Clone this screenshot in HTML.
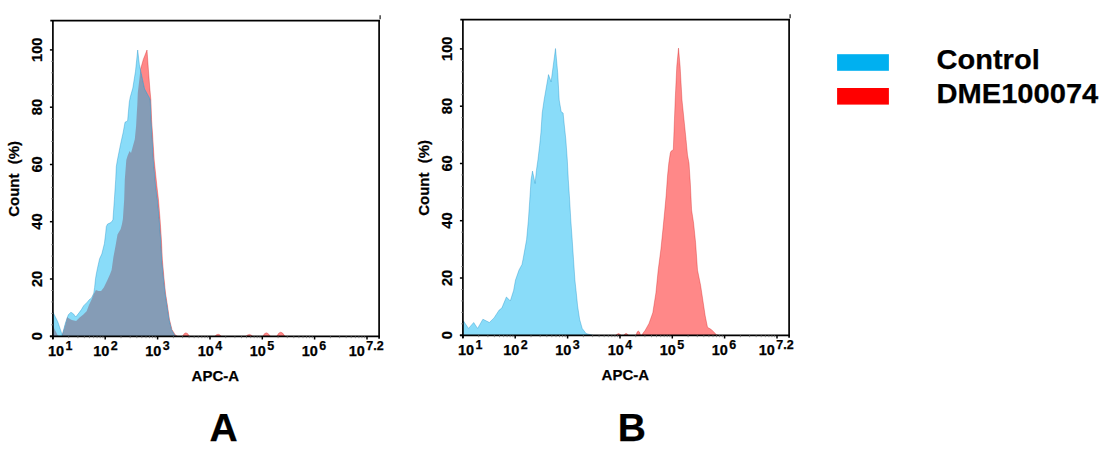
<!DOCTYPE html>
<html><head><meta charset="utf-8"><title>Flow cytometry histograms</title>
<style>
html,body{margin:0;padding:0;background:#fff;}
body{width:1114px;height:459px;overflow:hidden;}
svg{display:block;}
</style></head>
<body>
<svg width="1114" height="459" viewBox="0 0 1114 459">
<rect width="1114" height="459" fill="#fff"/>
<g id="panelA">
<defs><clipPath id="redclipA"><polygon points="53.0,336.3 53.0,326.0 55.5,331.0 57.5,335.0 59.0,336.3 61.8,336.3 64.5,328.0 67.4,317.4 71.8,320.0 76.1,320.9 79.6,317.4 83.1,314.8 86.6,311.3 89.0,304.9 91.6,299.6 93.7,294.4 95.9,290.0 98.5,290.9 101.1,290.9 103.8,287.4 107.2,280.5 109.9,274.4 111.6,270.0 113.5,256.6 115.5,246.0 117.5,234.4 120.7,229.0 122.0,224.0 122.9,219.0 124.2,199.2 124.8,179.6 126.3,160.0 127.5,156.0 129.6,151.0 131.0,153.0 134.8,139.2 136.1,126.1 136.8,113.0 137.3,105.0 137.8,92.7 139.4,79.0 140.4,69.8 143.3,59.4 147.0,50.0 148.5,71.1 149.8,88.1 150.9,100.0 151.6,119.6 152.9,139.2 154.2,160.0 156.9,186.0 158.5,200.0 160.1,219.6 161.4,239.2 162.4,260.0 164.2,280.0 165.5,293.0 167.5,306.0 169.4,319.2 172.0,329.7 175.3,334.9 177.5,336.3 177.5,336.3"/></clipPath></defs>
<polygon points="53.0,336.3 53.0,326.0 55.5,331.0 57.5,335.0 59.0,336.3 61.8,336.3 64.5,328.0 67.4,317.4 71.8,320.0 76.1,320.9 79.6,317.4 83.1,314.8 86.6,311.3 89.0,304.9 91.6,299.6 93.7,294.4 95.9,290.0 98.5,290.9 101.1,290.9 103.8,287.4 107.2,280.5 109.9,274.4 111.6,270.0 113.5,256.6 115.5,246.0 117.5,234.4 120.7,229.0 122.0,224.0 122.9,219.0 124.2,199.2 124.8,179.6 126.3,160.0 127.5,156.0 129.6,151.0 131.0,153.0 134.8,139.2 136.1,126.1 136.8,113.0 137.3,105.0 137.8,92.7 139.4,79.0 140.4,69.8 143.3,59.4 147.0,50.0 148.5,71.1 149.8,88.1 150.9,100.0 151.6,119.6 152.9,139.2 154.2,160.0 156.9,186.0 158.5,200.0 160.1,219.6 161.4,239.2 162.4,260.0 164.2,280.0 165.5,293.0 167.5,306.0 169.4,319.2 172.0,329.7 175.3,334.9 177.5,336.3 177.5,336.3" fill="#ff8888" stroke="rgba(200,0,0,0.5)" stroke-width="0.6"/>
<path d="M182.5,336.3 Q185.8,329.3 189.5,336.3 Z" fill="#ff8888" stroke="rgba(200,0,0,0.5)" stroke-width="0.6"/>
<path d="M214.9,336.3 Q218.1,332.1 221.3,336.3 Z" fill="#ff8888" stroke="rgba(200,0,0,0.5)" stroke-width="0.6"/>
<path d="M246.0,336.3 Q249.4,332.5 252.6,336.3 Z" fill="#ff8888" stroke="rgba(200,0,0,0.5)" stroke-width="0.6"/>
<path d="M262.8,336.3 Q266.0,329.3 270.4,336.3 Z" fill="#ff8888" stroke="rgba(200,0,0,0.5)" stroke-width="0.6"/>
<path d="M276.8,336.3 Q280.6,328.1 284.9,336.3 Z" fill="#ff8888" stroke="rgba(200,0,0,0.5)" stroke-width="0.6"/>
<polygon points="53.0,336.3 53.0,312.2 57.8,321.8 61.3,332.2 62.2,335.5 65.3,323.5 68.3,314.8 70.9,312.2 73.5,313.9 75.7,317.0 78.8,313.1 81.4,309.6 83.7,305.7 87.2,302.2 89.4,299.6 91.6,297.9 93.7,293.5 94.6,287.4 95.5,278.7 96.3,274.0 97.4,268.5 99.6,258.7 101.8,254.0 104.4,243.5 105.7,233.0 106.3,226.5 107.6,224.0 110.9,222.6 112.9,220.0 114.4,199.2 115.7,179.6 116.3,166.5 117.4,160.0 120.5,144.4 123.1,132.7 125.0,122.2 127.6,120.9 128.3,113.0 129.3,102.0 130.2,97.3 132.8,88.1 135.5,71.1 137.7,50.0 139.4,64.6 140.7,71.0 144.6,89.0 149.2,97.3 150.2,100.0 151.0,119.6 152.2,139.2 153.3,160.0 155.6,186.0 157.4,200.0 159.2,219.6 160.6,239.2 161.7,260.0 163.6,280.0 165.0,293.0 167.0,306.0 169.0,319.2 171.5,329.7 174.5,334.9 176.0,336.3 176.0,336.3" fill="#89dcf9"/>
<polygon points="53.0,336.3 53.0,312.2 57.8,321.8 61.3,332.2 62.2,335.5 65.3,323.5 68.3,314.8 70.9,312.2 73.5,313.9 75.7,317.0 78.8,313.1 81.4,309.6 83.7,305.7 87.2,302.2 89.4,299.6 91.6,297.9 93.7,293.5 94.6,287.4 95.5,278.7 96.3,274.0 97.4,268.5 99.6,258.7 101.8,254.0 104.4,243.5 105.7,233.0 106.3,226.5 107.6,224.0 110.9,222.6 112.9,220.0 114.4,199.2 115.7,179.6 116.3,166.5 117.4,160.0 120.5,144.4 123.1,132.7 125.0,122.2 127.6,120.9 128.3,113.0 129.3,102.0 130.2,97.3 132.8,88.1 135.5,71.1 137.7,50.0 139.4,64.6 140.7,71.0 144.6,89.0 149.2,97.3 150.2,100.0 151.0,119.6 152.2,139.2 153.3,160.0 155.6,186.0 157.4,200.0 159.2,219.6 160.6,239.2 161.7,260.0 163.6,280.0 165.0,293.0 167.0,306.0 169.0,319.2 171.5,329.7 174.5,334.9 176.0,336.3 176.0,336.3" fill="#859cb6" clip-path="url(#redclipA)"/>
<polygon points="53.0,336.3 53.0,312.2 57.8,321.8 61.3,332.2 62.2,335.5 65.3,323.5 68.3,314.8 70.9,312.2 73.5,313.9 75.7,317.0 78.8,313.1 81.4,309.6 83.7,305.7 87.2,302.2 89.4,299.6 91.6,297.9 93.7,293.5 94.6,287.4 95.5,278.7 96.3,274.0 97.4,268.5 99.6,258.7 101.8,254.0 104.4,243.5 105.7,233.0 106.3,226.5 107.6,224.0 110.9,222.6 112.9,220.0 114.4,199.2 115.7,179.6 116.3,166.5 117.4,160.0 120.5,144.4 123.1,132.7 125.0,122.2 127.6,120.9 128.3,113.0 129.3,102.0 130.2,97.3 132.8,88.1 135.5,71.1 137.7,50.0 139.4,64.6 140.7,71.0 144.6,89.0 149.2,97.3 150.2,100.0 151.0,119.6 152.2,139.2 153.3,160.0 155.6,186.0 157.4,200.0 159.2,219.6 160.6,239.2 161.7,260.0 163.6,280.0 165.0,293.0 167.0,306.0 169.0,319.2 171.5,329.7 174.5,334.9 176.0,336.3 176.0,336.3" fill="none" stroke="rgba(0,130,190,0.55)" stroke-width="0.6"/>
<path d="M52.9,19.9 V339.1" stroke="#000" stroke-width="1.7" fill="none"/>
<path d="M50.3,20.7 H379.9" stroke="#000" stroke-width="1.7" fill="none"/>
<path d="M379.1,19.9 V338.8" stroke="#000" stroke-width="1.7" fill="none"/>
<path d="M49.9,336.3 H379.9" stroke="#000" stroke-width="1.7" fill="none"/>
<path d="M380.1,15.2 V19.2" stroke="#000" stroke-width="1.1" fill="none"/>
<path d="M49.9,336.3 H52.9" stroke="#000" stroke-width="1.5"/>
<path d="M49.9,279.0 H52.9" stroke="#000" stroke-width="1.5"/>
<path d="M49.9,221.7 H52.9" stroke="#000" stroke-width="1.5"/>
<path d="M49.9,164.5 H52.9" stroke="#000" stroke-width="1.5"/>
<path d="M49.9,107.2 H52.9" stroke="#000" stroke-width="1.5"/>
<path d="M49.9,49.9 H52.9" stroke="#000" stroke-width="1.5"/>
<path d="M51.1,324.8 H52.9" stroke="#888" stroke-width="0.8"/>
<path d="M51.1,313.4 H52.9" stroke="#888" stroke-width="0.8"/>
<path d="M51.1,301.9 H52.9" stroke="#888" stroke-width="0.8"/>
<path d="M51.1,290.5 H52.9" stroke="#888" stroke-width="0.8"/>
<path d="M51.1,267.6 H52.9" stroke="#888" stroke-width="0.8"/>
<path d="M51.1,256.1 H52.9" stroke="#888" stroke-width="0.8"/>
<path d="M51.1,244.7 H52.9" stroke="#888" stroke-width="0.8"/>
<path d="M51.1,233.2 H52.9" stroke="#888" stroke-width="0.8"/>
<path d="M51.1,210.3 H52.9" stroke="#888" stroke-width="0.8"/>
<path d="M51.1,198.8 H52.9" stroke="#888" stroke-width="0.8"/>
<path d="M51.1,187.4 H52.9" stroke="#888" stroke-width="0.8"/>
<path d="M51.1,175.9 H52.9" stroke="#888" stroke-width="0.8"/>
<path d="M51.1,153.0 H52.9" stroke="#888" stroke-width="0.8"/>
<path d="M51.1,141.5 H52.9" stroke="#888" stroke-width="0.8"/>
<path d="M51.1,130.1 H52.9" stroke="#888" stroke-width="0.8"/>
<path d="M51.1,118.6 H52.9" stroke="#888" stroke-width="0.8"/>
<path d="M51.1,95.7 H52.9" stroke="#888" stroke-width="0.8"/>
<path d="M51.1,84.3 H52.9" stroke="#888" stroke-width="0.8"/>
<path d="M51.1,72.8 H52.9" stroke="#888" stroke-width="0.8"/>
<path d="M51.1,61.4 H52.9" stroke="#888" stroke-width="0.8"/>
<path d="M52.9,336.3 V339.5" stroke="#000" stroke-width="1.5"/>
<path d="M105.2,336.3 V339.5" stroke="#000" stroke-width="1.5"/>
<path d="M157.6,336.3 V339.5" stroke="#000" stroke-width="1.5"/>
<path d="M210.0,336.3 V339.5" stroke="#000" stroke-width="1.5"/>
<path d="M262.3,336.3 V339.5" stroke="#000" stroke-width="1.5"/>
<path d="M314.6,336.3 V339.5" stroke="#000" stroke-width="1.5"/>
<path d="M367.0,336.3 V339.5" stroke="#000" stroke-width="1.5"/>
<path d="M68.7,336.3 V338.2" stroke="#777" stroke-width="0.8"/>
<path d="M77.9,336.3 V338.2" stroke="#777" stroke-width="0.8"/>
<path d="M84.4,336.3 V338.2" stroke="#777" stroke-width="0.8"/>
<path d="M89.5,336.3 V338.2" stroke="#777" stroke-width="0.8"/>
<path d="M93.6,336.3 V338.2" stroke="#777" stroke-width="0.8"/>
<path d="M97.1,336.3 V338.2" stroke="#777" stroke-width="0.8"/>
<path d="M100.2,336.3 V338.2" stroke="#777" stroke-width="0.8"/>
<path d="M102.9,336.3 V338.2" stroke="#777" stroke-width="0.8"/>
<path d="M121.0,336.3 V338.2" stroke="#777" stroke-width="0.8"/>
<path d="M130.2,336.3 V338.2" stroke="#777" stroke-width="0.8"/>
<path d="M136.8,336.3 V338.2" stroke="#777" stroke-width="0.8"/>
<path d="M141.8,336.3 V338.2" stroke="#777" stroke-width="0.8"/>
<path d="M146.0,336.3 V338.2" stroke="#777" stroke-width="0.8"/>
<path d="M149.5,336.3 V338.2" stroke="#777" stroke-width="0.8"/>
<path d="M152.5,336.3 V338.2" stroke="#777" stroke-width="0.8"/>
<path d="M155.2,336.3 V338.2" stroke="#777" stroke-width="0.8"/>
<path d="M173.4,336.3 V338.2" stroke="#777" stroke-width="0.8"/>
<path d="M182.6,336.3 V338.2" stroke="#777" stroke-width="0.8"/>
<path d="M189.1,336.3 V338.2" stroke="#777" stroke-width="0.8"/>
<path d="M194.2,336.3 V338.2" stroke="#777" stroke-width="0.8"/>
<path d="M198.3,336.3 V338.2" stroke="#777" stroke-width="0.8"/>
<path d="M201.8,336.3 V338.2" stroke="#777" stroke-width="0.8"/>
<path d="M204.9,336.3 V338.2" stroke="#777" stroke-width="0.8"/>
<path d="M207.6,336.3 V338.2" stroke="#777" stroke-width="0.8"/>
<path d="M225.7,336.3 V338.2" stroke="#777" stroke-width="0.8"/>
<path d="M234.9,336.3 V338.2" stroke="#777" stroke-width="0.8"/>
<path d="M241.5,336.3 V338.2" stroke="#777" stroke-width="0.8"/>
<path d="M246.5,336.3 V338.2" stroke="#777" stroke-width="0.8"/>
<path d="M250.7,336.3 V338.2" stroke="#777" stroke-width="0.8"/>
<path d="M254.2,336.3 V338.2" stroke="#777" stroke-width="0.8"/>
<path d="M257.2,336.3 V338.2" stroke="#777" stroke-width="0.8"/>
<path d="M259.9,336.3 V338.2" stroke="#777" stroke-width="0.8"/>
<path d="M278.1,336.3 V338.2" stroke="#777" stroke-width="0.8"/>
<path d="M287.3,336.3 V338.2" stroke="#777" stroke-width="0.8"/>
<path d="M293.8,336.3 V338.2" stroke="#777" stroke-width="0.8"/>
<path d="M298.9,336.3 V338.2" stroke="#777" stroke-width="0.8"/>
<path d="M303.0,336.3 V338.2" stroke="#777" stroke-width="0.8"/>
<path d="M306.5,336.3 V338.2" stroke="#777" stroke-width="0.8"/>
<path d="M309.6,336.3 V338.2" stroke="#777" stroke-width="0.8"/>
<path d="M312.3,336.3 V338.2" stroke="#777" stroke-width="0.8"/>
<path d="M330.4,336.3 V338.2" stroke="#777" stroke-width="0.8"/>
<path d="M339.6,336.3 V338.2" stroke="#777" stroke-width="0.8"/>
<path d="M346.2,336.3 V338.2" stroke="#777" stroke-width="0.8"/>
<path d="M351.2,336.3 V338.2" stroke="#777" stroke-width="0.8"/>
<path d="M355.4,336.3 V338.2" stroke="#777" stroke-width="0.8"/>
<path d="M358.9,336.3 V338.2" stroke="#777" stroke-width="0.8"/>
<path d="M361.9,336.3 V338.2" stroke="#777" stroke-width="0.8"/>
<path d="M364.6,336.3 V338.2" stroke="#777" stroke-width="0.8"/>
<text transform="translate(42.2,336.2) rotate(-90)" text-anchor="middle" font-size="14.6" font-family="'Liberation Sans', Arial, sans-serif" font-weight="bold" stroke="#000" stroke-width="0.25">0</text>
<text transform="translate(42.2,278.9) rotate(-90)" text-anchor="middle" font-size="14.6" font-family="'Liberation Sans', Arial, sans-serif" font-weight="bold" stroke="#000" stroke-width="0.25">20</text>
<text transform="translate(42.2,221.6) rotate(-90)" text-anchor="middle" font-size="14.6" font-family="'Liberation Sans', Arial, sans-serif" font-weight="bold" stroke="#000" stroke-width="0.25">40</text>
<text transform="translate(42.2,164.4) rotate(-90)" text-anchor="middle" font-size="14.6" font-family="'Liberation Sans', Arial, sans-serif" font-weight="bold" stroke="#000" stroke-width="0.25">60</text>
<text transform="translate(42.2,107.1) rotate(-90)" text-anchor="middle" font-size="14.6" font-family="'Liberation Sans', Arial, sans-serif" font-weight="bold" stroke="#000" stroke-width="0.25">80</text>
<text transform="translate(42.2,49.8) rotate(-90)" text-anchor="middle" font-size="14.6" font-family="'Liberation Sans', Arial, sans-serif" font-weight="bold" stroke="#000" stroke-width="0.25">100</text>
<text transform="translate(19.0,216.8) rotate(-90)" font-size="15" font-family="'Liberation Sans', Arial, sans-serif" font-weight="bold" stroke="#000" stroke-width="0.25">Count</text>
<text transform="translate(19.0,164.3) rotate(-90)" font-size="15" font-family="'Liberation Sans', Arial, sans-serif" font-weight="bold" stroke="#000" stroke-width="0.25">(%)</text>
<text x="47.9" y="355.6" font-size="14.5" font-family="'Liberation Sans', Arial, sans-serif" font-weight="bold" stroke="#000" stroke-width="0.25">10</text>
<text x="65.4" y="349.8" font-size="12.5" font-family="'Liberation Sans', Arial, sans-serif" font-weight="bold" stroke="#000" stroke-width="0.25">1</text>
<text x="93.2" y="355.6" font-size="14.5" font-family="'Liberation Sans', Arial, sans-serif" font-weight="bold" stroke="#000" stroke-width="0.25">10</text>
<text x="110.7" y="349.8" font-size="12.5" font-family="'Liberation Sans', Arial, sans-serif" font-weight="bold" stroke="#000" stroke-width="0.25">2</text>
<text x="145.3" y="355.6" font-size="14.5" font-family="'Liberation Sans', Arial, sans-serif" font-weight="bold" stroke="#000" stroke-width="0.25">10</text>
<text x="162.8" y="349.8" font-size="12.5" font-family="'Liberation Sans', Arial, sans-serif" font-weight="bold" stroke="#000" stroke-width="0.25">3</text>
<text x="197.8" y="355.6" font-size="14.5" font-family="'Liberation Sans', Arial, sans-serif" font-weight="bold" stroke="#000" stroke-width="0.25">10</text>
<text x="215.3" y="349.8" font-size="12.5" font-family="'Liberation Sans', Arial, sans-serif" font-weight="bold" stroke="#000" stroke-width="0.25">4</text>
<text x="249.8" y="355.6" font-size="14.5" font-family="'Liberation Sans', Arial, sans-serif" font-weight="bold" stroke="#000" stroke-width="0.25">10</text>
<text x="267.3" y="349.8" font-size="12.5" font-family="'Liberation Sans', Arial, sans-serif" font-weight="bold" stroke="#000" stroke-width="0.25">5</text>
<text x="301.8" y="355.6" font-size="14.5" font-family="'Liberation Sans', Arial, sans-serif" font-weight="bold" stroke="#000" stroke-width="0.25">10</text>
<text x="319.3" y="349.8" font-size="12.5" font-family="'Liberation Sans', Arial, sans-serif" font-weight="bold" stroke="#000" stroke-width="0.25">6</text>
<text x="348.8" y="355.6" font-size="14.5" font-family="'Liberation Sans', Arial, sans-serif" font-weight="bold" stroke="#000" stroke-width="0.25">10</text>
<text x="366.3" y="349.8" font-size="12.5" font-family="'Liberation Sans', Arial, sans-serif" font-weight="bold" stroke="#000" stroke-width="0.25">7.2</text>
<text x="191.6" y="381.3" font-size="15.5" textLength="47.4" lengthAdjust="spacingAndGlyphs" font-family="'Liberation Sans', Arial, sans-serif" font-weight="bold" stroke="#000" stroke-width="0.25">APC-A</text>
</g>
<path d="M616.0,335.3 Q618.5,331.9 621.0,335.3 Z" fill="#ff8888" stroke="rgba(200,0,0,0.5)" stroke-width="0.6"/>
<path d="M623.8,335.3 Q626.1,331.5 628.4,335.3 Z" fill="#ff8888" stroke="rgba(200,0,0,0.5)" stroke-width="0.6"/>
<path d="M636.0,335.3 Q638.3,326.7 640.6,335.3 Z" fill="#ff8888" stroke="rgba(200,0,0,0.5)" stroke-width="0.6"/>
<polygon points="641.5,335.3 641.5,335.3 645.2,330.3 649.0,323.4 652.8,312.7 655.9,292.9 658.2,270.0 660.9,249.2 662.9,229.6 664.8,210.0 666.1,195.8 667.5,176.1 668.8,163.1 670.3,153.0 671.0,151.2 673.3,149.7 674.2,126.1 675.2,100.0 676.8,66.1 678.5,48.1 680.1,66.1 682.0,100.0 684.0,119.6 686.0,139.2 687.5,155.0 689.0,163.1 690.3,182.7 691.6,210.0 693.6,223.1 695.6,242.7 697.5,270.0 700.6,285.3 702.9,300.5 705.2,315.8 707.5,327.3 711.3,329.5 714.4,332.6 716.6,334.9 718.0,335.3 718.0,335.3" fill="#ff8888" stroke="rgba(200,0,0,0.5)" stroke-width="0.6"/>
<polygon points="463.5,335.3 463.5,321.0 468.5,328.4 473.7,322.5 477.6,328.4 482.9,319.2 489.4,322.5 494.0,317.9 499.2,310.0 501.8,308.1 506.4,297.0 510.3,300.9 513.6,290.5 515.5,280.0 519.0,270.0 522.0,264.4 523.3,257.9 526.6,239.6 528.4,220.0 529.8,199.2 531.1,179.6 532.5,171.1 535.1,183.5 536.4,170.5 537.9,160.0 539.6,145.8 540.9,132.7 542.2,113.0 544.1,100.0 548.5,74.6 551.1,81.8 555.5,48.5 557.7,72.7 559.2,100.0 561.2,111.8 563.1,113.0 564.4,126.0 565.8,139.2 567.3,160.0 568.3,179.6 569.6,199.2 570.8,220.0 572.2,239.6 573.5,259.2 574.9,280.0 576.3,293.0 577.6,306.0 579.6,319.2 582.2,328.4 586.1,333.6 591.4,334.9 593.0,335.3 593.0,335.3" fill="#89dcf9" stroke="rgba(0,130,190,0.55)" stroke-width="0.6"/>
<g transform="translate(410,-1)">
<path d="M52.9,19.9 V339.1" stroke="#000" stroke-width="1.7" fill="none"/>
<path d="M50.3,20.7 H379.9" stroke="#000" stroke-width="1.7" fill="none"/>
<path d="M379.1,19.9 V338.8" stroke="#000" stroke-width="1.7" fill="none"/>
<path d="M49.9,336.3 H379.9" stroke="#000" stroke-width="1.7" fill="none"/>
<path d="M380.1,15.2 V19.2" stroke="#000" stroke-width="1.1" fill="none"/>
<path d="M49.9,336.3 H52.9" stroke="#000" stroke-width="1.5"/>
<path d="M49.9,279.0 H52.9" stroke="#000" stroke-width="1.5"/>
<path d="M49.9,221.7 H52.9" stroke="#000" stroke-width="1.5"/>
<path d="M49.9,164.5 H52.9" stroke="#000" stroke-width="1.5"/>
<path d="M49.9,107.2 H52.9" stroke="#000" stroke-width="1.5"/>
<path d="M49.9,49.9 H52.9" stroke="#000" stroke-width="1.5"/>
<path d="M51.1,324.8 H52.9" stroke="#888" stroke-width="0.8"/>
<path d="M51.1,313.4 H52.9" stroke="#888" stroke-width="0.8"/>
<path d="M51.1,301.9 H52.9" stroke="#888" stroke-width="0.8"/>
<path d="M51.1,290.5 H52.9" stroke="#888" stroke-width="0.8"/>
<path d="M51.1,267.6 H52.9" stroke="#888" stroke-width="0.8"/>
<path d="M51.1,256.1 H52.9" stroke="#888" stroke-width="0.8"/>
<path d="M51.1,244.7 H52.9" stroke="#888" stroke-width="0.8"/>
<path d="M51.1,233.2 H52.9" stroke="#888" stroke-width="0.8"/>
<path d="M51.1,210.3 H52.9" stroke="#888" stroke-width="0.8"/>
<path d="M51.1,198.8 H52.9" stroke="#888" stroke-width="0.8"/>
<path d="M51.1,187.4 H52.9" stroke="#888" stroke-width="0.8"/>
<path d="M51.1,175.9 H52.9" stroke="#888" stroke-width="0.8"/>
<path d="M51.1,153.0 H52.9" stroke="#888" stroke-width="0.8"/>
<path d="M51.1,141.5 H52.9" stroke="#888" stroke-width="0.8"/>
<path d="M51.1,130.1 H52.9" stroke="#888" stroke-width="0.8"/>
<path d="M51.1,118.6 H52.9" stroke="#888" stroke-width="0.8"/>
<path d="M51.1,95.7 H52.9" stroke="#888" stroke-width="0.8"/>
<path d="M51.1,84.3 H52.9" stroke="#888" stroke-width="0.8"/>
<path d="M51.1,72.8 H52.9" stroke="#888" stroke-width="0.8"/>
<path d="M51.1,61.4 H52.9" stroke="#888" stroke-width="0.8"/>
<path d="M52.9,336.3 V339.5" stroke="#000" stroke-width="1.5"/>
<path d="M105.2,336.3 V339.5" stroke="#000" stroke-width="1.5"/>
<path d="M157.6,336.3 V339.5" stroke="#000" stroke-width="1.5"/>
<path d="M210.0,336.3 V339.5" stroke="#000" stroke-width="1.5"/>
<path d="M262.3,336.3 V339.5" stroke="#000" stroke-width="1.5"/>
<path d="M314.6,336.3 V339.5" stroke="#000" stroke-width="1.5"/>
<path d="M367.0,336.3 V339.5" stroke="#000" stroke-width="1.5"/>
<path d="M68.7,336.3 V338.2" stroke="#777" stroke-width="0.8"/>
<path d="M77.9,336.3 V338.2" stroke="#777" stroke-width="0.8"/>
<path d="M84.4,336.3 V338.2" stroke="#777" stroke-width="0.8"/>
<path d="M89.5,336.3 V338.2" stroke="#777" stroke-width="0.8"/>
<path d="M93.6,336.3 V338.2" stroke="#777" stroke-width="0.8"/>
<path d="M97.1,336.3 V338.2" stroke="#777" stroke-width="0.8"/>
<path d="M100.2,336.3 V338.2" stroke="#777" stroke-width="0.8"/>
<path d="M102.9,336.3 V338.2" stroke="#777" stroke-width="0.8"/>
<path d="M121.0,336.3 V338.2" stroke="#777" stroke-width="0.8"/>
<path d="M130.2,336.3 V338.2" stroke="#777" stroke-width="0.8"/>
<path d="M136.8,336.3 V338.2" stroke="#777" stroke-width="0.8"/>
<path d="M141.8,336.3 V338.2" stroke="#777" stroke-width="0.8"/>
<path d="M146.0,336.3 V338.2" stroke="#777" stroke-width="0.8"/>
<path d="M149.5,336.3 V338.2" stroke="#777" stroke-width="0.8"/>
<path d="M152.5,336.3 V338.2" stroke="#777" stroke-width="0.8"/>
<path d="M155.2,336.3 V338.2" stroke="#777" stroke-width="0.8"/>
<path d="M173.4,336.3 V338.2" stroke="#777" stroke-width="0.8"/>
<path d="M182.6,336.3 V338.2" stroke="#777" stroke-width="0.8"/>
<path d="M189.1,336.3 V338.2" stroke="#777" stroke-width="0.8"/>
<path d="M194.2,336.3 V338.2" stroke="#777" stroke-width="0.8"/>
<path d="M198.3,336.3 V338.2" stroke="#777" stroke-width="0.8"/>
<path d="M201.8,336.3 V338.2" stroke="#777" stroke-width="0.8"/>
<path d="M204.9,336.3 V338.2" stroke="#777" stroke-width="0.8"/>
<path d="M207.6,336.3 V338.2" stroke="#777" stroke-width="0.8"/>
<path d="M225.7,336.3 V338.2" stroke="#777" stroke-width="0.8"/>
<path d="M234.9,336.3 V338.2" stroke="#777" stroke-width="0.8"/>
<path d="M241.5,336.3 V338.2" stroke="#777" stroke-width="0.8"/>
<path d="M246.5,336.3 V338.2" stroke="#777" stroke-width="0.8"/>
<path d="M250.7,336.3 V338.2" stroke="#777" stroke-width="0.8"/>
<path d="M254.2,336.3 V338.2" stroke="#777" stroke-width="0.8"/>
<path d="M257.2,336.3 V338.2" stroke="#777" stroke-width="0.8"/>
<path d="M259.9,336.3 V338.2" stroke="#777" stroke-width="0.8"/>
<path d="M278.1,336.3 V338.2" stroke="#777" stroke-width="0.8"/>
<path d="M287.3,336.3 V338.2" stroke="#777" stroke-width="0.8"/>
<path d="M293.8,336.3 V338.2" stroke="#777" stroke-width="0.8"/>
<path d="M298.9,336.3 V338.2" stroke="#777" stroke-width="0.8"/>
<path d="M303.0,336.3 V338.2" stroke="#777" stroke-width="0.8"/>
<path d="M306.5,336.3 V338.2" stroke="#777" stroke-width="0.8"/>
<path d="M309.6,336.3 V338.2" stroke="#777" stroke-width="0.8"/>
<path d="M312.3,336.3 V338.2" stroke="#777" stroke-width="0.8"/>
<path d="M330.4,336.3 V338.2" stroke="#777" stroke-width="0.8"/>
<path d="M339.6,336.3 V338.2" stroke="#777" stroke-width="0.8"/>
<path d="M346.2,336.3 V338.2" stroke="#777" stroke-width="0.8"/>
<path d="M351.2,336.3 V338.2" stroke="#777" stroke-width="0.8"/>
<path d="M355.4,336.3 V338.2" stroke="#777" stroke-width="0.8"/>
<path d="M358.9,336.3 V338.2" stroke="#777" stroke-width="0.8"/>
<path d="M361.9,336.3 V338.2" stroke="#777" stroke-width="0.8"/>
<path d="M364.6,336.3 V338.2" stroke="#777" stroke-width="0.8"/>
<text transform="translate(42.2,336.2) rotate(-90)" text-anchor="middle" font-size="14.6" font-family="'Liberation Sans', Arial, sans-serif" font-weight="bold" stroke="#000" stroke-width="0.25">0</text>
<text transform="translate(42.2,278.9) rotate(-90)" text-anchor="middle" font-size="14.6" font-family="'Liberation Sans', Arial, sans-serif" font-weight="bold" stroke="#000" stroke-width="0.25">20</text>
<text transform="translate(42.2,221.6) rotate(-90)" text-anchor="middle" font-size="14.6" font-family="'Liberation Sans', Arial, sans-serif" font-weight="bold" stroke="#000" stroke-width="0.25">40</text>
<text transform="translate(42.2,164.4) rotate(-90)" text-anchor="middle" font-size="14.6" font-family="'Liberation Sans', Arial, sans-serif" font-weight="bold" stroke="#000" stroke-width="0.25">60</text>
<text transform="translate(42.2,107.1) rotate(-90)" text-anchor="middle" font-size="14.6" font-family="'Liberation Sans', Arial, sans-serif" font-weight="bold" stroke="#000" stroke-width="0.25">80</text>
<text transform="translate(42.2,49.8) rotate(-90)" text-anchor="middle" font-size="14.6" font-family="'Liberation Sans', Arial, sans-serif" font-weight="bold" stroke="#000" stroke-width="0.25">100</text>
<text transform="translate(19.0,216.8) rotate(-90)" font-size="15" font-family="'Liberation Sans', Arial, sans-serif" font-weight="bold" stroke="#000" stroke-width="0.25">Count</text>
<text transform="translate(19.0,164.3) rotate(-90)" font-size="15" font-family="'Liberation Sans', Arial, sans-serif" font-weight="bold" stroke="#000" stroke-width="0.25">(%)</text>
<text x="47.9" y="355.6" font-size="14.5" font-family="'Liberation Sans', Arial, sans-serif" font-weight="bold" stroke="#000" stroke-width="0.25">10</text>
<text x="65.4" y="349.8" font-size="12.5" font-family="'Liberation Sans', Arial, sans-serif" font-weight="bold" stroke="#000" stroke-width="0.25">1</text>
<text x="93.2" y="355.6" font-size="14.5" font-family="'Liberation Sans', Arial, sans-serif" font-weight="bold" stroke="#000" stroke-width="0.25">10</text>
<text x="110.7" y="349.8" font-size="12.5" font-family="'Liberation Sans', Arial, sans-serif" font-weight="bold" stroke="#000" stroke-width="0.25">2</text>
<text x="145.3" y="355.6" font-size="14.5" font-family="'Liberation Sans', Arial, sans-serif" font-weight="bold" stroke="#000" stroke-width="0.25">10</text>
<text x="162.8" y="349.8" font-size="12.5" font-family="'Liberation Sans', Arial, sans-serif" font-weight="bold" stroke="#000" stroke-width="0.25">3</text>
<text x="197.8" y="355.6" font-size="14.5" font-family="'Liberation Sans', Arial, sans-serif" font-weight="bold" stroke="#000" stroke-width="0.25">10</text>
<text x="215.3" y="349.8" font-size="12.5" font-family="'Liberation Sans', Arial, sans-serif" font-weight="bold" stroke="#000" stroke-width="0.25">4</text>
<text x="249.8" y="355.6" font-size="14.5" font-family="'Liberation Sans', Arial, sans-serif" font-weight="bold" stroke="#000" stroke-width="0.25">10</text>
<text x="267.3" y="349.8" font-size="12.5" font-family="'Liberation Sans', Arial, sans-serif" font-weight="bold" stroke="#000" stroke-width="0.25">5</text>
<text x="301.8" y="355.6" font-size="14.5" font-family="'Liberation Sans', Arial, sans-serif" font-weight="bold" stroke="#000" stroke-width="0.25">10</text>
<text x="319.3" y="349.8" font-size="12.5" font-family="'Liberation Sans', Arial, sans-serif" font-weight="bold" stroke="#000" stroke-width="0.25">6</text>
<text x="348.8" y="355.6" font-size="14.5" font-family="'Liberation Sans', Arial, sans-serif" font-weight="bold" stroke="#000" stroke-width="0.25">10</text>
<text x="366.3" y="349.8" font-size="12.5" font-family="'Liberation Sans', Arial, sans-serif" font-weight="bold" stroke="#000" stroke-width="0.25">7.2</text>
<text x="191.6" y="381.3" font-size="15.5" textLength="47.4" lengthAdjust="spacingAndGlyphs" font-family="'Liberation Sans', Arial, sans-serif" font-weight="bold" stroke="#000" stroke-width="0.25">APC-A</text>
</g>
<text x="209.6" y="441.0" font-size="39" font-family="'Liberation Sans', Arial, sans-serif" font-weight="bold" stroke="#000" stroke-width="0.25">A</text>
<text x="617.8" y="441.0" font-size="39" font-family="'Liberation Sans', Arial, sans-serif" font-weight="bold" stroke="#000" stroke-width="0.25">B</text>
<rect x="837.1" y="54.2" width="51.8" height="16.6" fill="#00b0f0"/>
<rect x="837.1" y="88.0" width="51.8" height="16.6" fill="#ff0000"/>
<text x="936.5" y="68.5" font-size="28.5" textLength="103.2" lengthAdjust="spacingAndGlyphs" font-family="'Liberation Sans', Arial, sans-serif" font-weight="bold" stroke="#000" stroke-width="0.25">Control</text>
<text x="936.5" y="103.2" font-size="28.5" textLength="161.8" lengthAdjust="spacingAndGlyphs" font-family="'Liberation Sans', Arial, sans-serif" font-weight="bold" stroke="#000" stroke-width="0.25">DME100074</text>
</svg>
</body></html>
